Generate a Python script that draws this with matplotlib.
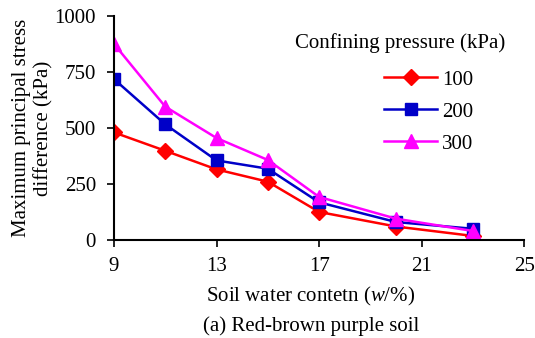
import matplotlib
matplotlib.use('Agg')
import matplotlib.pyplot as plt

# soil water content (%) and max principal stress difference (kPa)
water = [9, 11, 13, 15, 17, 20, 23]
p100 = [480, 398, 315, 260, 125, 60, 18]
p200 = [718, 516, 355, 318, 168, 80, 50]
p300 = [875, 595, 455, 357, 192, 95, 40]
xticks = [9, 13, 17, 21, 25]
yticks = [0, 250, 500, 750, 1000]

plt.rcParams['font.family'] = ['Liberation Serif', 'DejaVu Serif']
plt.rcParams['mathtext.fontset'] = 'custom'
plt.rcParams['mathtext.it'] = 'Liberation Serif:italic'

fs = 15
fig = plt.figure(figsize=(5.35, 3.38), dpi=100)
ax = fig.add_axes([0.213, 0.29, 0.767, 0.663])

ax.plot(water, p100, color='#FF0000', lw=1.8, marker='D', ms=8, label='100')
ax.plot(water, p200, color='#0000C8', lw=1.8, marker='s', ms=8, label='200')
ax.plot(water, p300, color='#FF00FF', lw=1.8, marker='^', ms=10, label='300')

ax.set_xlim(9, 25)
ax.set_ylim(0, 1000)
ax.set_xticks(xticks)
ax.set_yticks(yticks)
ax.tick_params(labelsize=fs, width=1.2, length=5, direction='out', pad=7)
ax.tick_params(axis='y', pad=8)
for s in ['top', 'right']:
    ax.spines[s].set_visible(False)
for s in ['left', 'bottom']:
    ax.spines[s].set_linewidth(1.5)

ax.set_ylabel('Maximum principal stress\ndifference (kPa)', fontsize=fs, linespacing=1.2, labelpad=1)
fig.text(0.581, 1 - 296 / 338, 'Soil water contetn ($w$/%)', fontsize=fs, ha='center', va='center')
fig.text(0.581, 1 - 326 / 338, '(a) Red-brown purple soil', fontsize=fs, ha='center', va='center')

fig.text(400 / 535, 1 - 43 / 338, 'Confining pressure (kPa)', fontsize=fs, ha='center', va='center')
ax.legend(fontsize=fs, frameon=False, loc='upper left',
          bbox_to_anchor=(384 / 535, 1 - 70 / 338), bbox_transform=fig.transFigure,
          handlelength=2.55, handletextpad=0.25, labelspacing=0.6,
          borderpad=0, borderaxespad=0)

fig.savefig('out.png', dpi=100)
